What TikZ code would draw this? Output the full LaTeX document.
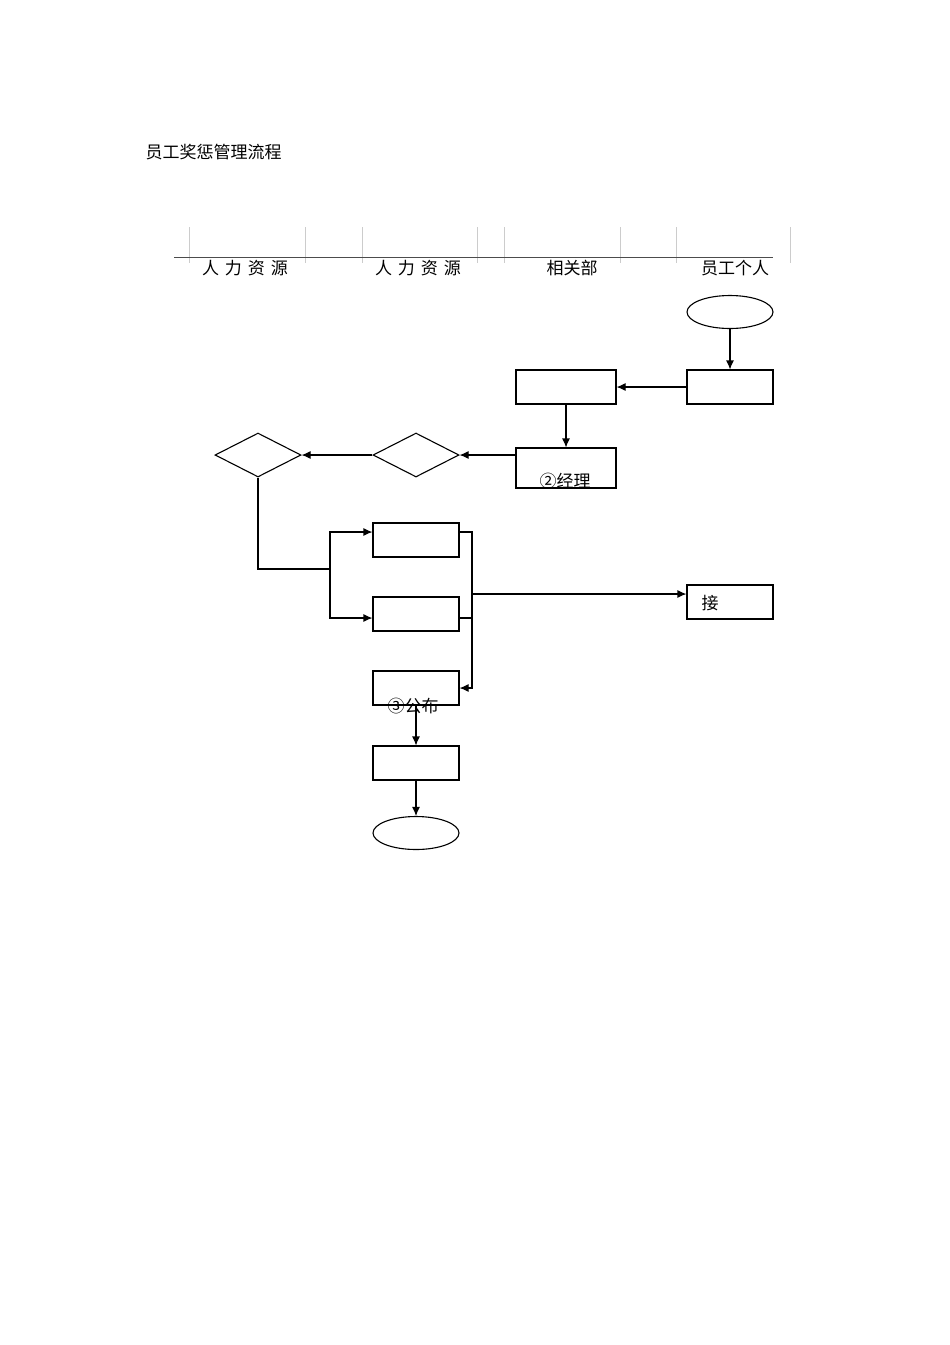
\documentclass[tikz,border=0pt]{standalone}
\usepackage{fontspec}
\setmainfont{Noto Sans CJK SC}
\usetikzlibrary{shapes.geometric, arrows.meta}

\begin{document}
\begin{tikzpicture}[x=1pt, y=-1pt, line width=1.1pt,
    box/.style={draw, rectangle, minimum width=86pt, minimum height=34pt, inner sep=0pt},
    widebox/.style={box, minimum width=100pt},
    ends/.style={draw, ellipse, minimum width=86pt, minimum height=33pt, inner sep=0pt},
    choice/.style={draw, diamond, aspect=1.95, minimum width=86pt, minimum height=44pt, inner sep=0pt},
    lane/.style={draw=black!20, line width=0.6pt},
    txt/.style={inner sep=0pt, font=\fontsize{17}{19}\selectfont},
    flow/.style={-{Latex[length=9pt, width=8pt]}}]
    \useasboundingbox (0,0) rectangle (950,1345);

    \node[txt, anchor=west] (title) at (145, 152) {员工奖惩管理流程};

    % lanes
    \foreach \x in {189, 305, 362, 477, 504, 620, 676, 790}
        \draw[lane] (\x, 227) -- (\x, 263);
    \draw[line width=0.9pt, draw=black!70] (174, 257) -- (773, 257);
    \node[txt] (hr1) at (245, 268) {人\hspace{6pt}力\hspace{6pt}资\hspace{6pt}源};
    \node[txt] (hr2) at (418, 268) {人\hspace{6pt}力\hspace{6pt}资\hspace{6pt}源};
    \node[txt] (dept) at (572, 268) {相关部};
    \node[txt] (staff) at (735, 268) {员工个人};

    \node[ends] (start) at (730, 312) {};
    \node[box] (apply) at (730, 387) {};
    \node[widebox] (check) at (566, 387) {};
    \node[widebox, minimum height=40pt] (mgr) at (566, 468) {};
    \node[txt] (mgrtxt) at (565, 481) {②经理};
    \node[choice] (hrok) at (416, 455) {};
    \node[choice] (topok) at (258, 455) {};
    \node[box] (prize) at (416, 540) {};
    \node[box] (punish) at (416, 614) {};
    \node[box] (notify) at (730, 602) {};
    \node[txt] (notifytxt) at (710, 603) {接};
    \node[box] (pub) at (416, 688) {};
    \node[txt] (pubtxt) at (413, 706) {③公布};
    \node[box] (file) at (416, 763) {};
    \node[ends] (stop) at (416, 833) {};

    \coordinate (split) at (330, 569);
    \coordinate (join) at (472, 594);

    \draw[flow] (start) -- (apply);
    \draw[flow] (apply) -- (check);
    \draw[flow] (check) -- (mgr);
    \draw[flow] (mgr.west |- hrok) -- (hrok);
    \draw[flow] (hrok) -- (topok);
    \draw (topok.south) |- (split);
    \draw[flow] (split) |- ([yshift=8pt]prize.west);
    \draw[flow] (split) |- ([yshift=-4pt]punish.west);
    \draw ([yshift=8pt]prize.east) -| (join);
    \draw ([yshift=-4pt]punish.east) -- ([yshift=-4pt]punish.east -| join);
    \draw[flow] (join) |- (pub);
    \draw[flow] (join) -- (join -| notify.west);
    \draw[flow] (pub) -- (file);
    \draw[flow] (file) -- (stop);
\end{tikzpicture}
\end{document}
